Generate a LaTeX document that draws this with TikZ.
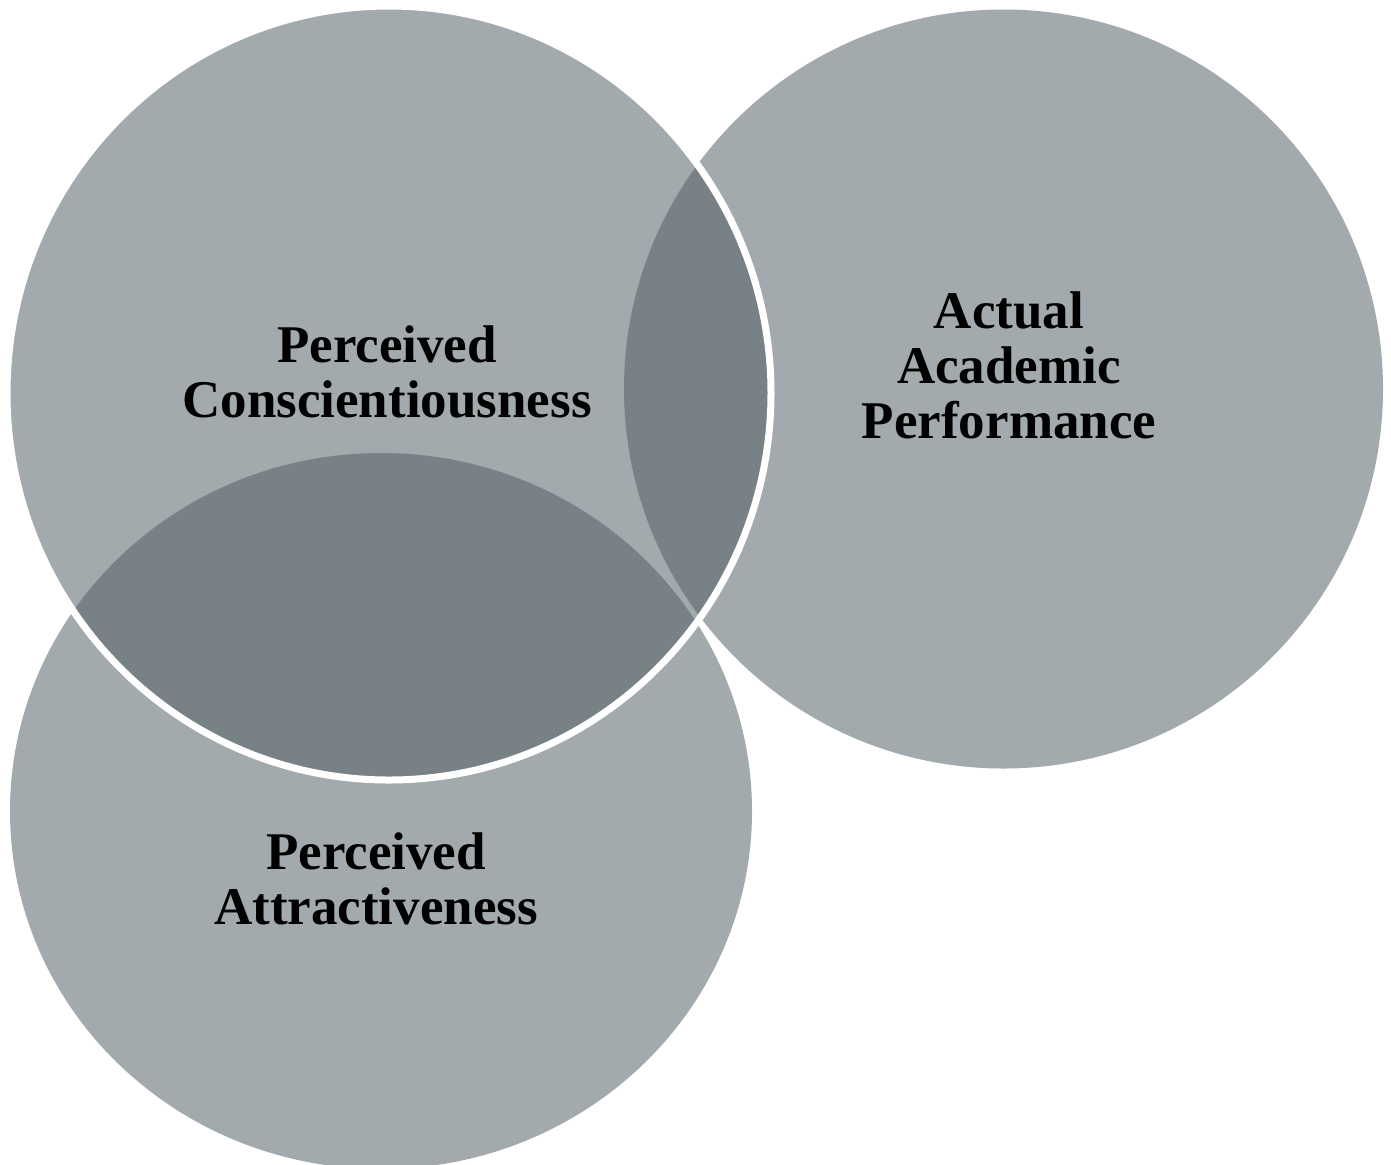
\documentclass[tikz,border=0pt]{standalone}
\usepackage{fontspec}
\setmainfont{Liberation Serif}
\definecolor{vennlight}{RGB}{163,170,173}
\definecolor{venndark}{RGB}{120,130,134}
\tikzset{
  venntext/.style={align=center, inner sep=0pt, text=black,
    font=\bfseries\fontsize{26.5}{27.5}\selectfont},
  vennfill/.style={fill=vennlight},
  venndarkfill/.style={fill=venndark},
  vennrim/.style={draw=white, line width=3.5pt}
}
\begin{document}
\begin{tikzpicture}[x=0.5pt,y=-0.5pt]
  \useasboundingbox (0,0) rectangle (1391,1164);
  \fill[white] (0,0) rectangle (1391,1164);
  % centres
  \coordinate (tl) at (389,393);
  \coordinate (rt) at (1003.5,389);
  \coordinate (bt) at (381,811);
  % base fills
  \fill[vennfill] (rt) circle[radius=189.75pt];
  \fill[vennfill] (bt) ellipse[x radius=185.5pt, y radius=179pt];
  \fill[vennfill] (tl) ellipse[x radius=191pt, y radius=193.5pt];
  % overlaps
  \begin{scope}
    \clip (tl) ellipse[x radius=191pt, y radius=193.5pt];
    \fill[venndarkfill] (rt) circle[radius=189.75pt];
    \fill[venndarkfill] (bt) ellipse[x radius=185.5pt, y radius=179pt];
  \end{scope}
  % white rim of the top-left circle
  \draw[vennrim] (tl) ellipse[x radius=191pt, y radius=193.5pt];
  % labels
  \node[venntext] (pc) at (387,371.5) {Perceived\\Conscientiousness};
  \node[venntext] (aap) at (1009,365) {Actual\\Academic\\Performance};
  \node[venntext] (pa) at (376,879) {Perceived\\Attractiveness};
\end{tikzpicture}
\end{document}
